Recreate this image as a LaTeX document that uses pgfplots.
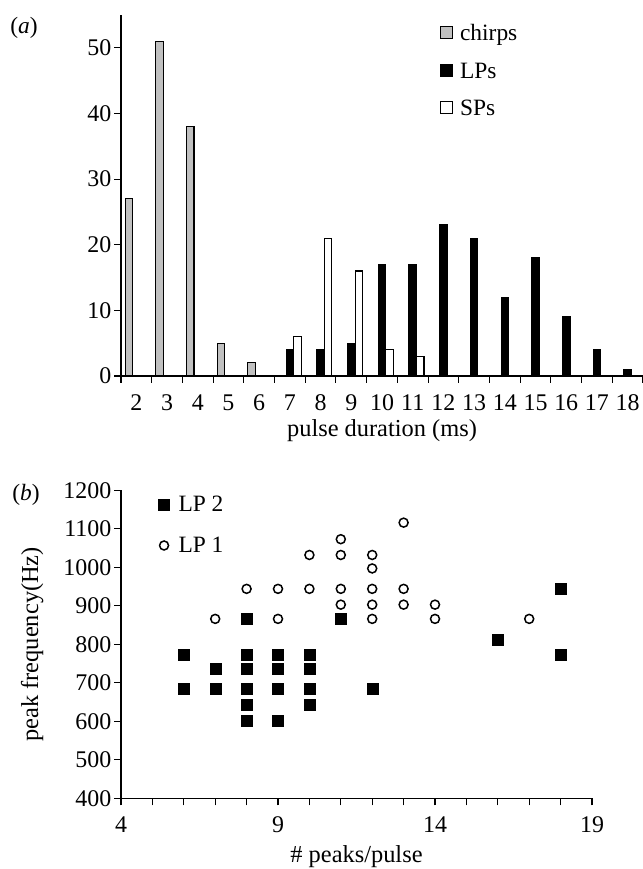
\documentclass[border=0pt]{standalone}
\usepackage{fontspec}
\setmainfont{Liberation Serif}
\usepackage{pgfplots}
\pgfplotsset{compat=1.18}

\definecolor{chirpgray}{RGB}{192,192,192}

\pgfplotsset{
  paper/.style={
    scale only axis,
    axis x line*=bottom,
    axis y line*=left,
    axis line style={-, line width=1.1bp},
    tick align=outside,
    tick style={line width=1.1bp, black},
    major tick length=7bp,
    minor tick length=7bp,
    /pgf/number format/assume math mode=true,
    /pgf/number format/1000 sep={},
    tick label style={font=\fontsize{24}{27}\selectfont, inner sep=2.5bp},
    xticklabel style={yshift=-9bp},
    label style={font=\fontsize{24.5}{28}\selectfont},
    ylabel style={yshift=14bp},
    legend style={draw=none, fill=none, font=\fontsize{23.5}{27}\selectfont},
    legend cell align=left,
    clip=false,
  },
}

\begin{document}
\begin{tikzpicture}[x=1bp, y=1bp]
\useasboundingbox (0,0) rectangle (643,869);

% (a) pulse duration histogram
\begin{axis}[paper,
    at={(121bp,493bp)}, anchor=south west,
    width=522bp, height=361bp,
    xmin=1.5, xmax=18.5, ymin=0, ymax=55,
    ytick={0,10,...,50},
    xtick={2,...,18},
    major x tick style={draw=none},
    minor xtick={1.5,2.5,...,18.5},
    ybar=0pt, bar width=7.5bp,
    xlabel={pulse duration (ms)},
    xlabel style={yshift=-3bp},
    legend style={at={(axis description cs:0.605,0.985)}, anchor=north west,
      row sep=16.5bp, column sep=5bp},
    legend image code/.code={\draw[#1, line width=1.1bp] (0bp,-5bp) rectangle (12bp,7bp);},
  ]
  \addplot[fill=chirpgray, draw=black, line width=1.1bp] coordinates {
    (2,27) (3,51) (4,38) (5,5) (6,2)
  };
  \addplot[fill=black, draw=black, line width=1.1bp] coordinates {
    (7,4) (8,4) (9,5) (10,17) (11,17) (12,23) (13,21)
    (14,12) (15,18) (16,9) (17,4) (18,1)
  };
  \addplot[fill=white, draw=black, line width=1.1bp] coordinates {
    (7,6) (8,21) (9,16) (10,4) (11,3)
  };
  \legend{chirps, LPs, SPs}
\end{axis}

% (b) peak frequency vs peaks per pulse
\begin{axis}[paper,
    at={(121bp,70.7bp)}, anchor=south west,
    width=471bp, height=308bp,
    xmin=4, xmax=19, ymin=400, ymax=1200,
    xtick={4,9,14,19}, minor x tick num=4,
    ytick={400,500,...,1200},
    xlabel={\# peaks/pulse},
    xlabel style={yshift=-6bp},
    ylabel={peak frequency(Hz)},
    legend style={at={(axis description cs:0.073,0.995)}, anchor=north west,
      row sep=20bp, column sep=7bp},
  ]
  \addplot[only marks, mark=square*, mark size=5.5bp, black] coordinates {
    (6,772) (6,685)
    (7,736) (7,685)
    (8,866) (8,772) (8,736) (8,685) (8,642) (8,601)
    (9,772) (9,736) (9,685) (9,601)
    (10,772) (10,736) (10,685) (10,642)
    (11,866)
    (12,685)
    (16,813)
    (18,944) (18,772)
  };
  \addplot[only marks, mark=o, mark size=4.5bp, black, line width=1.5bp] coordinates {
    (7,866)
    (8,944)
    (9,944) (9,866)
    (10,1032) (10,944)
    (11,1073) (11,1032) (11,944) (11,903)
    (12,1032) (12,997) (12,944) (12,903) (12,866)
    (13,1116) (13,944) (13,903)
    (14,903) (14,866)
    (17,866)
  };
  \legend{LP 2, LP 1}
\end{axis}

\node[font=\fontsize{23.5}{27}\selectfont] at (24,841) {(\textit{a})};
\node[font=\fontsize{23.5}{27}\selectfont] at (26,374) {(\textit{b})};
\end{tikzpicture}
\end{document}
